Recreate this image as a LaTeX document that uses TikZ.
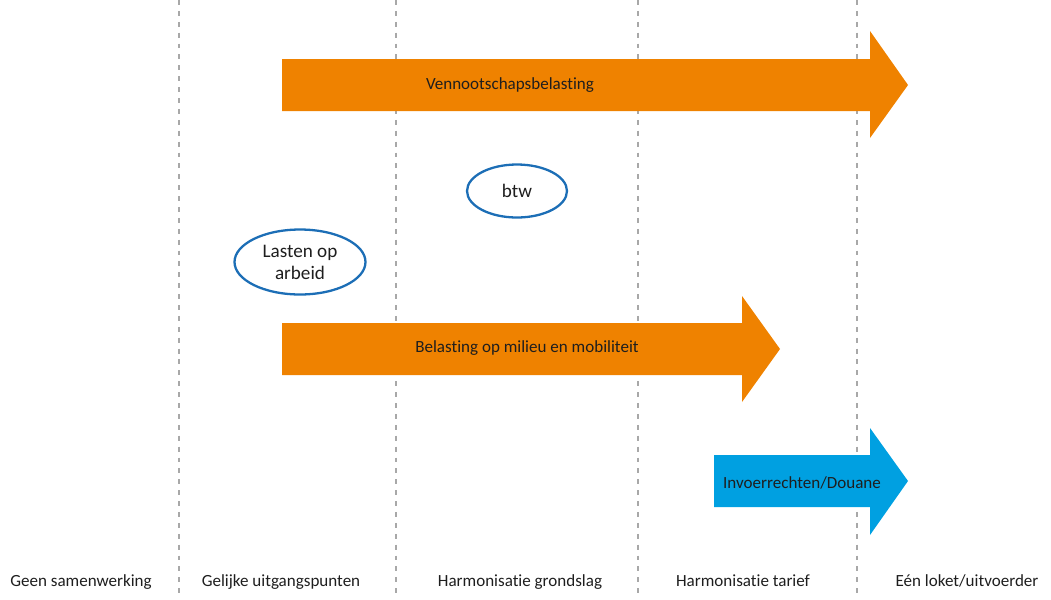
\documentclass[tikz,border=0pt]{standalone}
\usepackage{fontspec}
\setmainfont{Carlito}[Ligatures=NoCommon]
\usepackage{xcolor}
\usetikzlibrary{shapes.geometric, positioning}
\definecolor{taxorange}{HTML}{EF8200}
\definecolor{taxblue}{HTML}{00A0E1}
\definecolor{ringblue}{HTML}{1C6EB6}
\definecolor{gridgray}{HTML}{A8A8A8}
\definecolor{inkdark}{HTML}{1E1E1E}

\begin{document}
\begin{tikzpicture}[
    x=0.02cm, y=-0.02cm,
    divider/.style={draw=gridgray, line width=0.6pt, dash pattern=on 2.8pt off 3.4pt},
    bar/.style={fill=#1, draw=none},
    barlabel/.style={font=\fontsize{9.7}{11.5}\selectfont, text=inkdark, inner sep=0pt},
    stage/.style={font=\fontsize{9.7}{11.5}\selectfont, text=inkdark, inner sep=0pt, anchor=base},
    tax/.style={ellipse, draw=ringblue, line width=1.3pt, fill=white, align=center, inner sep=0pt, font=\fontsize{10.9}{12.6}\selectfont, text=inkdark}
]
\useasboundingbox (0,0) rectangle (1051,599);

% Dividers
\foreach \xpos in {179,396,638,857}
    \draw[divider] (\xpos,0) -- (\xpos,599);

% Arrows
\fill[bar=taxorange] (282,59) -- (870,59) -- (870,31) -- (908,85) -- (870,138) -- (870,111) -- (282,111) -- cycle;
\fill[bar=taxorange] (282,323) -- (742,323) -- (742,296) -- (780,349) -- (742,402) -- (742,375) -- (282,375) -- cycle;
\fill[bar=taxblue] (714,455) -- (870,455) -- (870,428) -- (908,481) -- (870,535) -- (870,507) -- (714,507) -- cycle;

% Nodes
\node[barlabel] (vpb) at (510,85) {Vennootschapsbelasting};
\node[barlabel] (milieu) at (527,348) {Belasting op milieu en mobiliteit};
\node[barlabel] (douane) at (802,483) {Invoerrechten/Douane};

\node[tax, minimum width=2.0cm, minimum height=1.06cm] (btw) at (517,191) {btw};
\node[tax, minimum width=2.62cm, minimum height=1.3cm] (arbeid) at (300,262) {Lasten op\\arbeid};

% Stages
\node[stage] (geen) at (81,586) {Geen samenwerking};
\node[stage] (gelijk) at (281,586) {Gelijke uitgangspunten};
\node[stage] (grondslag) at (520,586) {Harmonisatie grondslag};
\node[stage] (tarief) at (743,586) {Harmonisatie tarief};
\node[stage] (loket) at (967,586) {Eén loket/uitvoerder};

\end{tikzpicture}
\end{document}
